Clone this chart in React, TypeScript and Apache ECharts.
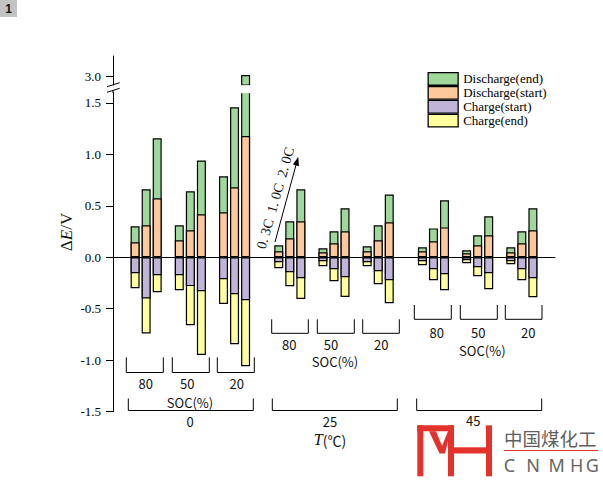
import React, { useEffect, useRef } from 'react';
import * as echarts from 'echarts';

// ---- data ----
const temperatures = ['0', '25', '45'];
const socLevels = ['80', '50', '20'];
const rates = ['0.3C', '1.0C', '2.0C'];

// order: temperature -> SOC -> rate
const dischargeEnd = [
  0.30, 0.66, 1.155, 0.31, 0.64, 0.94, 0.786, 1.456, 3.01,
  0.117, 0.35, 0.66, 0.087, 0.252, 0.476, 0.107, 0.31, 0.61,
  0.097, 0.28, 0.553, 0.068, 0.214, 0.398, 0.097, 0.252, 0.476,
];
const dischargeStart = [
  0.146, 0.31, 0.573, 0.165, 0.262, 0.417, 0.437, 0.68, 1.178,
  0.058, 0.184, 0.35, 0.049, 0.136, 0.252, 0.058, 0.165, 0.34,
  0.058, 0.155, 0.29, 0.039, 0.117, 0.214, 0.049, 0.136, 0.262,
];
const chargeStart = [
  -0.155, -0.40, -0.175, -0.175, -0.28, -0.33, -0.214, -0.36, -0.417,
  -0.049, -0.146, -0.204, -0.039, -0.117, -0.194, -0.049, -0.136, -0.223,
  -0.039, -0.117, -0.165, -0.029, -0.097, -0.155, -0.039, -0.117, -0.204,
];
const chargeEnd = [
  -0.30, -0.74, -0.34, -0.32, -0.66, -0.95, -0.453, -0.845, -1.058,
  -0.107, -0.282, -0.405, -0.087, -0.233, -0.385, -0.087, -0.262, -0.447,
  -0.078, -0.223, -0.32, -0.058, -0.184, -0.31, -0.068, -0.223, -0.388,
];
const lowerTicks = [-1.5, -1.0, -0.5, 0.0, 0.5, 1.0, 1.5];
const upperTicks = [3.0];

const SERIF = "'Liberation Serif', 'Times New Roman', serif";
const CJK = "'Noto Sans CJK SC', 'Noto Sans', sans-serif";

const C_GREEN = '#a0d89c';
const C_ORANGE = '#fdc89a';
const C_PURPLE = '#c1b4d9';
const C_YELLOW = '#ffff9f';

function bracket(x1: number, x2: number, yTop: number, yBot: number) {
  return {
    type: 'polyline',
    shape: { points: [[x1, yTop], [x1, yBot], [x2, yBot], [x2, yTop]] },
    style: { stroke: '#000', lineWidth: 1, fill: 'none' },
    silent: true,
  };
}
function label(text: string, x: number, y: number, size = 13) {
  return {
    type: 'text',
    x,
    y,
    style: {
      text,
      fontFamily: CJK,
      fontSize: size,
      lineHeight: size,
      fill: '#111',
      align: 'center',
      verticalAlign: 'middle',
    },
    silent: true,
  };
}

export default function App() {
  const ref = useRef<HTMLDivElement>(null);

  useEffect(() => {
    if (!ref.current) return;
    const chart = echarts.init(ref.current, null, { renderer: 'svg' });

    const categories: string[] = [];
    const slotOf: number[] = [];
    let g = 0;
    const addGap = () => {
      categories.push('gap' + g++);
      slotOf.push(-1);
    };
    addGap();
    addGap();
    let vi = 0;
    temperatures.forEach((t, ti) => {
      if (ti > 0) {
        addGap();
        addGap();
      }
      socLevels.forEach((s, si) => {
        if (si > 0) addGap();
        rates.forEach((r) => {
          categories.push(`${t}℃ ${s}% ${r}`);
          slotOf.push(vi++);
        });
      });
    });
    addGap();
    addGap();

    const toSeries = (arr: number[]) => slotOf.map((i) => (i < 0 ? '-' : arr[i]));
    const upperData = slotOf.map((i) => (i >= 0 && dischargeEnd[i] > 1.6 ? dischargeEnd[i] : '-'));

    const barBase = {
      type: 'bar',
      barWidth: 9,
      barGap: '-100%',
      silent: true,
    };
    const border = { borderColor: '#000', borderWidth: 1.2 };

    const axisLineStyle = { color: '#000', width: 1 };
    const yLabel = {
      fontFamily: SERIF,
      fontSize: 13,
      color: '#000',
      margin: 12,
      formatter: (v: number) => v.toFixed(1),
    };
    const red = '#e2322b';

    const graphic: any[] = [
      // badge
      { type: 'rect', shape: { x: 0, y: 0, width: 17, height: 17 }, style: { fill: '#c3c3c3' }, silent: true },
      {
        type: 'text', x: 8.5, y: 8.5,
        style: { text: '1', font: `bold 12px 'Liberation Sans', Arial, sans-serif`, fill: '#111', align: 'center', verticalAlign: 'middle' },
        silent: true,
      },
      // axis break
      { type: 'rect', shape: { x: 239.5, y: 85.3, width: 12.5, height: 7.9 }, style: { fill: '#fff' }, z: 50, silent: true },
      { type: 'line', shape: { x1: 113, y1: 90, x2: 113, y2: 93 }, style: { stroke: '#000', lineWidth: 1 }, silent: true },
      { type: 'line', shape: { x1: 107, y1: 86.7, x2: 119.7, y2: 82.7 }, style: { stroke: '#000', lineWidth: 1 }, silent: true },
      { type: 'line', shape: { x1: 107, y1: 92.3, x2: 119.7, y2: 88.3 }, style: { stroke: '#000', lineWidth: 1 }, silent: true },
      // y axis name
      {
        type: 'text', x: 66, y: 232, rotation: Math.PI / 2,
        style: {
          text: '{a|Δ}{b|E}{a|/V}',
          align: 'center', verticalAlign: 'middle',
          rich: {
            a: { fontFamily: SERIF, fontSize: 17, fill: '#111' },
            b: { fontFamily: SERIF, fontSize: 17, fontStyle: 'italic', fill: '#111' },
          },
        },
        silent: true,
      },
      // rate arrow + text
      { type: 'line', shape: { x1: 275, y1: 242, x2: 296, y2: 165 }, style: { stroke: '#000', lineWidth: 1 }, silent: true },
      {
        type: 'polygon',
        shape: { points: [[298.3, 156.7], [298.9, 166.3], [293.0, 164.6]] },
        style: { fill: '#000' }, silent: true,
      },
      {
        type: 'text', x: 275.5, y: 198, rotation: (74 * Math.PI) / 180,
        style: { text: '0. 3C  1. 0C  2. 0C', font: `14px ${SERIF}`, fill: '#111', align: 'center', verticalAlign: 'middle' },
        silent: true,
      },
      // 0 ℃ brackets
      bracket(126.3, 163.3, 357.3, 372.5),
      bracket(172.3, 209.3, 357.3, 372.5),
      bracket(217.3, 254.3, 357.3, 372.5),
      label('80', 145.7, 383.3),
      label('50', 187.3, 383.3),
      label('20', 236.7, 383.3),
      label('SOC(%)', 190, 402.5),
      bracket(128.3, 253.3, 398.5, 410.5),
      label('0', 190, 421.5),
      // 25 ℃
      bracket(271.7, 308.3, 319.3, 333.3),
      bracket(317.3, 354.3, 319.3, 333.3),
      bracket(362.7, 399.3, 319.3, 333.3),
      label('80', 289.3, 344),
      label('50', 331, 344),
      label('20', 381.3, 344),
      label('SOC(%)', 335, 361.5),
      bracket(272.3, 397.3, 398.5, 410.5),
      label('25', 330, 421),
      {
        type: 'text', x: 330, y: 439.5,
        style: {
          text: '{i|T}{n|(℃)}',
          align: 'center', verticalAlign: 'middle',
          rich: {
            i: { fontFamily: SERIF, fontSize: 16, lineHeight: 15, fontStyle: 'italic', fill: '#111' },
            n: { fontFamily: CJK, fontSize: 14, lineHeight: 15, fill: '#111' },
          },
        },
        silent: true,
      },
      // 45 ℃
      bracket(414.3, 451.3, 305, 319.3),
      bracket(460.3, 497.3, 305, 319.3),
      bracket(505.3, 542, 305, 319.3),
      label('80', 436.7, 332.5),
      label('50', 478.3, 332.5),
      label('20', 528.3, 332.5),
      label('SOC(%)', 482.3, 350),
      bracket(416.7, 541.7, 398.5, 410.5),
      label('45', 473.3, 420),
      // logo
      { type: 'rect', shape: { x: 417.3, y: 425.3, width: 6, height: 51 }, style: { fill: red }, silent: true },
      { type: 'rect', shape: { x: 417.3, y: 425.3, width: 36.5, height: 6 }, style: { fill: red }, silent: true },
      {
        type: 'polygon',
        shape: { points: [[429, 431.3], [436, 431.3], [442, 446], [448, 431.3], [448, 441], [445, 453.5], [439.5, 453.5]] },
        style: { fill: red }, silent: true,
      },
      { type: 'rect', shape: { x: 448, y: 425.3, width: 6, height: 51 }, style: { fill: red }, silent: true },
      { type: 'rect', shape: { x: 486, y: 425.3, width: 6, height: 51 }, style: { fill: red }, silent: true },
      { type: 'rect', shape: { x: 454, y: 447.3, width: 32, height: 6.2 }, style: { fill: red }, silent: true },
      {
        type: 'text', x: 504, y: 437.5,
        style: { text: '中国煤化工', font: `18.5px ${CJK}`, fill: '#5f5f5f', align: 'left', verticalAlign: 'middle' },
        silent: true,
      },
      { type: 'line', shape: { x1: 504, y1: 450.5, x2: 598, y2: 450.5 }, style: { stroke: red, lineWidth: 1 }, silent: true },
      ...['C', 'N', 'M', 'H', 'G'].map((ch, i) => ({
        type: 'text',
        x: [509.5, 533, 556.7, 576.7, 592.3][i],
        y: 464.5,
        style: { text: ch, font: `18px 'Noto Sans', sans-serif`, fill: '#666', align: 'center', verticalAlign: 'middle' },
        silent: true,
      })),
    ];

    chart.setOption({
      animation: false,
      backgroundColor: '#fff',
      grid: [
        { left: 113, top: 92.5, width: 442, height: 319.2, outerBoundsMode: 'none', containLabel: false },
        { left: 113, top: 56, width: 442, height: 29, outerBoundsMode: 'none', containLabel: false },
      ],
      legend: {
        orient: 'vertical',
        left: 422.5,
        top: 67,
        itemWidth: 30,
        itemHeight: 12.6,
        itemGap: 0,
        icon: 'rect',
        itemStyle: { borderColor: '#000', borderWidth: 1.3 },
        textStyle: { fontFamily: SERIF, fontSize: 13, color: '#000', lineHeight: 12.6 },
        data: ['Discharge(end)', 'Discharge(start)', 'Charge(start)', 'Charge(end)'],
        selectedMode: false,
      },
      xAxis: [
        {
          type: 'category',
          gridIndex: 0,
          data: categories,
          boundaryGap: false,
          axisLine: { show: true, onZero: true, lineStyle: axisLineStyle },
          axisTick: { show: false },
          axisLabel: { show: false },
          splitLine: { show: false },
        },
        {
          type: 'category',
          gridIndex: 1,
          data: categories,
          boundaryGap: false,
          show: false,
        },
      ],
      yAxis: [
        {
          type: 'value',
          gridIndex: 0,
          min: -1.5,
          max: 1.6,
          interval: 0.5,
          axisLine: { show: true, lineStyle: axisLineStyle },
          axisTick: { show: true, length: 7, lineStyle: axisLineStyle, customValues: lowerTicks },
          axisLabel: { ...yLabel, customValues: lowerTicks },
          splitLine: { show: false },
        },
        {
          type: 'value',
          gridIndex: 1,
          min: 2.91,
          max: 3.2,
          axisLine: { show: true, lineStyle: axisLineStyle },
          axisTick: { show: true, length: 7, lineStyle: axisLineStyle, customValues: upperTicks },
          axisLabel: { ...yLabel, customValues: upperTicks },
          splitLine: { show: false },
        },
      ],
      series: [
        { ...barBase, name: 'Discharge(end)', xAxisIndex: 0, yAxisIndex: 0, data: toSeries(dischargeEnd), itemStyle: { color: C_GREEN, ...border } },
        { ...barBase, name: 'Charge(end)', xAxisIndex: 0, yAxisIndex: 0, data: toSeries(chargeEnd), itemStyle: { color: C_YELLOW, ...border } },
        { ...barBase, name: 'Discharge(start)', xAxisIndex: 0, yAxisIndex: 0, data: toSeries(dischargeStart), itemStyle: { color: C_ORANGE, ...border } },
        { ...barBase, name: 'Charge(start)', xAxisIndex: 0, yAxisIndex: 0, data: toSeries(chargeStart), itemStyle: { color: C_PURPLE, ...border } },
        { ...barBase, name: 'Discharge(end)', xAxisIndex: 1, yAxisIndex: 1, data: upperData, itemStyle: { color: C_GREEN, ...border } },
      ],
      graphic,
    });

    return () => chart.dispose();
  }, []);

  return (
    <div
      ref={ref}
      style={{ position: 'fixed', left: 0, top: 0, width: 603, height: 483, background: '#fff' }}
    />
  );
}
